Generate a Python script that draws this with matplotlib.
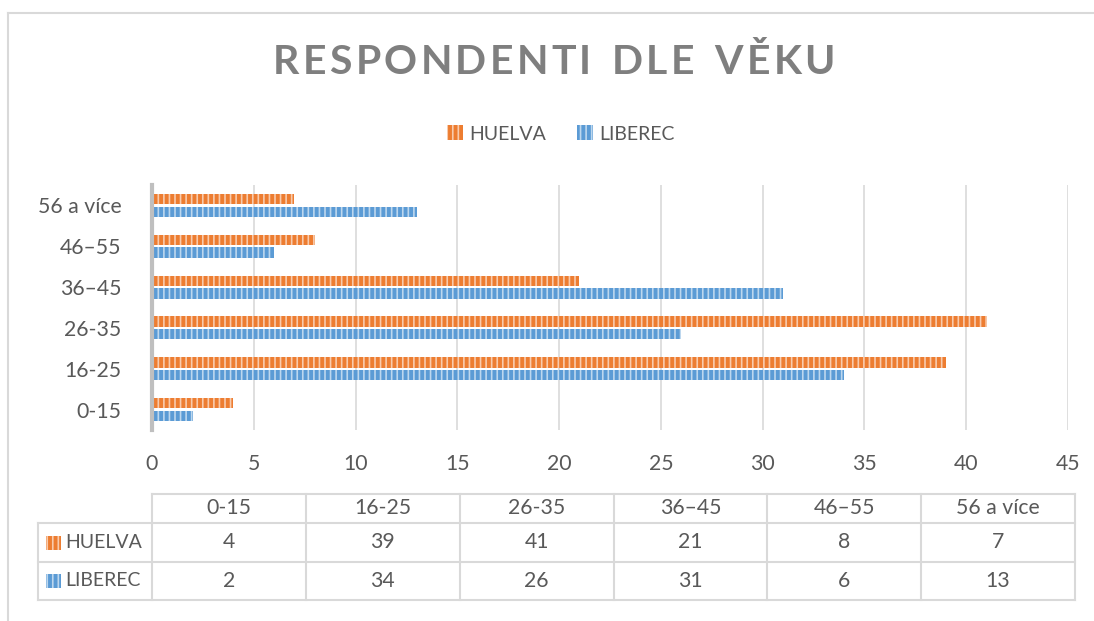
import numpy as np
import matplotlib
matplotlib.use("Agg")
import matplotlib.pyplot as plt
from matplotlib.patches import Rectangle
from matplotlib.lines import Line2D

categories = ["0-15", "16-25", "26-35", "36–45", "46–55", "56 a více"]
huelva = [4, 39, 41, 21, 8, 7]
liberec = [2, 34, 26, 31, 6, 13]
series_names = ["HUELVA", "LIBEREC"]
title = "RESPONDENTI DLE VĚKU"

W, H = 1094, 621
TXT = "#595959"
GRID = "#D9D9D9"
ORANGE = "#ED7D31"
ORANGE_L = "#F8CBAD"
BLUE = "#5B9BD5"
BLUE_L = "#BDD7EE"
FS = 15.3     # ticks and table cells
FS_LAB = 14   # legend and table row labels

plt.rcParams["font.family"] = ["Lato", "DejaVu Sans"]
plt.rcParams["hatch.linewidth"] = 1.2


def fx(px):
    return px / W


def fy(py):
    return 1 - py / H


fig = plt.figure(figsize=(W / 100, H / 100), dpi=100)

# outer chart frame (only top and left edges visible)
fl = dict(transform=fig.transFigure, color=GRID, linewidth=1.5)
fig.add_artist(Line2D([fx(8), fx(1093)], [fy(13), fy(13)], **fl))
fig.add_artist(Line2D([fx(8), fx(8)], [fy(13), fy(621)], **fl))

ax = fig.add_axes([fx(152), fy(430), fx(1068) - fx(152), fy(185) - fy(430)])
y = np.arange(len(categories))
h = 0.25
b1 = ax.barh(y + 0.155, huelva, height=h, color=ORANGE, edgecolor=ORANGE_L,
             hatch="|||", linewidth=0, label=series_names[0])
b2 = ax.barh(y - 0.155, liberec, height=h, color=BLUE, edgecolor=BLUE_L,
             hatch="|||", linewidth=0, label=series_names[1])

ax.set_xlim(0, 45)
ax.set_ylim(-0.5, len(categories) - 0.5)
ax.set_xticks(np.arange(0, 46, 5))
ax.set_yticks(y)
ax.set_yticklabels(categories)
ax.tick_params(axis="both", length=0, labelsize=FS, colors=TXT)
ax.tick_params(axis="x", pad=17)
ax.tick_params(axis="y", pad=22)
ax.grid(axis="x", color=GRID, linewidth=1.2)
ax.set_axisbelow(True)
for s in ("top", "right", "bottom"):
    ax.spines[s].set_visible(False)
ax.spines["left"].set_color("#BFBFBF")
ax.spines["left"].set_linewidth(3)

# title with wide letter spacing, drawn character by character
renderer = fig.canvas.get_renderer()
tprops = dict(fontsize=29.5, fontweight="bold", color="#7F7F7F", va="center", ha="left")
widths = []
for ch in title:
    t = fig.text(0, 0, ch if ch != " " else "n", **tprops)
    widths.append(t.get_window_extent(renderer).width * (0.6 if ch == " " else 1))
    t.remove()
x0, x1 = 273, 835
gap = (x1 - x0 - sum(widths)) / (len(title) - 1)
xc = x0
for ch, w in zip(title, widths):
    if ch != " ":
        fig.text(fx(xc), fy(63), ch, **tprops)
    xc += w + gap

fig.legend(handles=[b1, b2], loc="center", bbox_to_anchor=(fx(561), fy(134)),
           ncol=2, frameon=False, fontsize=FS_LAB, labelcolor=TXT,
           handlelength=0.8, handleheight=0.8, handletextpad=0.35,
           columnspacing=1.6)

# data table
col_x = np.linspace(152, 1075, len(categories) + 1)
row_y = [494, 523, 562, 600]
lab_x0 = 38
tl = dict(transform=fig.transFigure, color=GRID, linewidth=1.5)
fig.add_artist(Line2D([fx(col_x[0]), fx(col_x[-1])], [fy(row_y[0])] * 2, **tl))
for yy in row_y[1:]:
    fig.add_artist(Line2D([fx(lab_x0), fx(col_x[-1])], [fy(yy)] * 2, **tl))
for xx in col_x:
    fig.add_artist(Line2D([fx(xx)] * 2, [fy(row_y[0]), fy(row_y[-1])], **tl))
fig.add_artist(Line2D([fx(lab_x0)] * 2, [fy(row_y[1]), fy(row_y[-1])], **tl))

for i, c in enumerate(categories):
    cx = (col_x[i] + col_x[i + 1]) / 2
    fig.text(fx(cx), fy((row_y[0] + row_y[1]) / 2), c, ha="center",
             va="center", fontsize=FS, color=TXT)
    for r, vals in enumerate([huelva, liberec]):
        fig.text(fx(cx), fy((row_y[r + 1] + row_y[r + 2]) / 2), str(vals[i]),
                 ha="center", va="center", fontsize=FS, color=TXT)

for r, (name, fc, ec) in enumerate([(series_names[0], ORANGE, ORANGE_L),
                                    (series_names[1], BLUE, BLUE_L)]):
    cy = (row_y[r + 1] + row_y[r + 2]) / 2
    fig.add_artist(Rectangle((fx(46), fy(cy + 7)), fx(61) - fx(46), fy(cy - 7) - fy(cy + 7),
                             transform=fig.transFigure, facecolor=fc,
                             edgecolor=ec, hatch="|||", linewidth=0))
    fig.text(fx(65), fy(cy), name, ha="left", va="center", fontsize=FS_LAB, color=TXT)

fig.savefig("out.png", dpi=100)
